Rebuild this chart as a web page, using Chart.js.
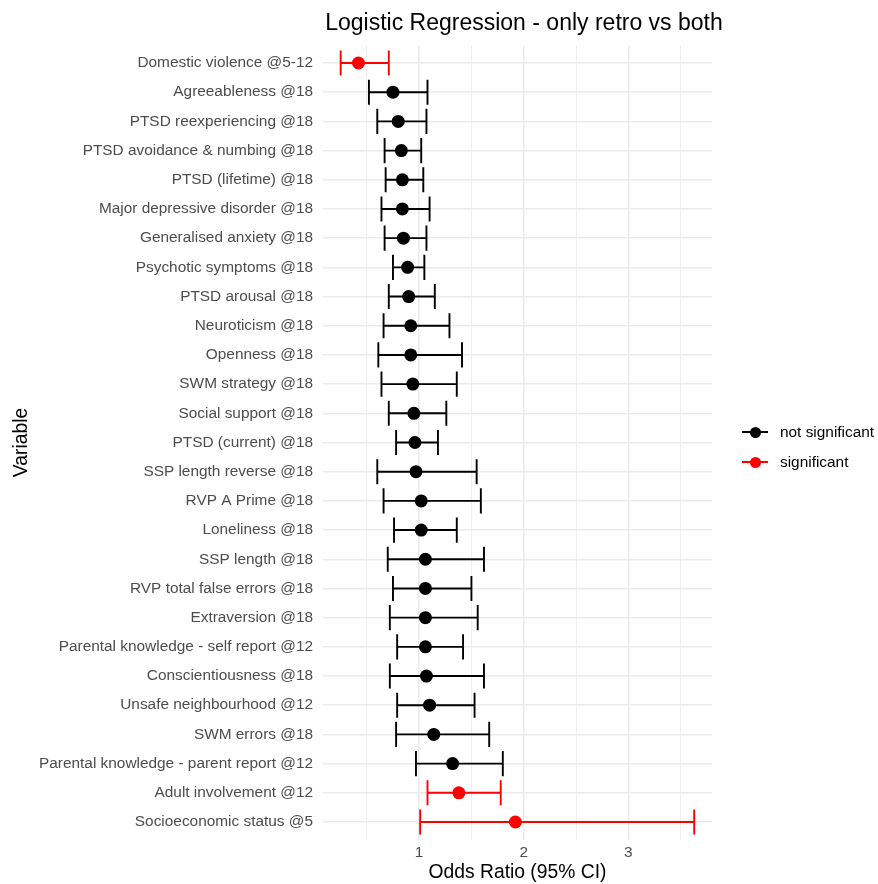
<!DOCTYPE html>
<html>
<head>
<meta charset="utf-8">
<title>Logistic Regression - only retro vs both</title>
<script src="https://cdn.jsdelivr.net/npm/chart.js@4.4.1/dist/chart.umd.min.js"></script>
<style>
  body { margin: 0; background: #fff; font-family: "Liberation Sans", Arial, sans-serif; }
  #wrap { position: relative; width: 878px; height: 884px; }
  #title { position: absolute; top: 8px; left: 0; width: 1048px; text-align: center; font-size: 23px; line-height: 28px; color: #000; }
  #legend { position: absolute; left: 742px; top: 421px; font-size: 15.4px; color: #000; }
  .item { height: 30px; line-height: 22px; position: relative; padding-left: 38px; }
  .item .ln { position: absolute; left: 0; top: 10px; width: 26px; height: 2px; }
  .item .dot { position: absolute; left: 7.5px; top: 5.5px; width: 11px; height: 11px; border-radius: 50%; }
</style>
</head>
<body>
<div id="wrap">
  <canvas id="forest-chartcanvas" width="878" height="884"></canvas>
  <div id="title">Logistic Regression - only retro vs both</div>
  <div id="legend">
    <div class="item"><span class="ln" style="background:#000"></span><span class="dot" style="background:#000"></span>not significant</div>
    <div class="item"><span class="ln" style="background:#f00"></span><span class="dot" style="background:#f00"></span>significant</div>
  </div>
</div>
<script>
// values (top row first)
var variables = [
  "Domestic violence @5-12",
  "Agreeableness @18",
  "PTSD reexperiencing @18",
  "PTSD avoidance & numbing @18",
  "PTSD (lifetime) @18",
  "Major depressive disorder @18",
  "Generalised anxiety @18",
  "Psychotic symptoms @18",
  "PTSD arousal @18",
  "Neuroticism @18",
  "Openness @18",
  "SWM strategy @18",
  "Social support @18",
  "PTSD (current) @18",
  "SSP length reverse @18",
  "RVP A Prime @18",
  "Loneliness @18",
  "SSP length @18",
  "RVP total false errors @18",
  "Extraversion @18",
  "Parental knowledge - self report @12",
  "Conscientiousness @18",
  "Unsafe neighbourhood @12",
  "SWM errors @18",
  "Parental knowledge - parent report @12",
  "Adult involvement @12",
  "Socioeconomic status @5"
];

var oddsRatio = [0.42, 0.75, 0.80, 0.83, 0.84, 0.84, 0.85, 0.89, 0.90, 0.92, 0.92, 0.94, 0.95, 0.96, 0.97,
                 1.02, 1.02, 1.06, 1.06, 1.06, 1.06, 1.07, 1.10, 1.14, 1.32, 1.38, 1.92];
var ciLow = [0.25, 0.52, 0.60, 0.67, 0.68, 0.64, 0.67, 0.75, 0.71, 0.66, 0.61, 0.64, 0.71, 0.78, 0.60,
             0.66, 0.76, 0.70, 0.75, 0.72, 0.79, 0.72, 0.79, 0.78, 0.97, 1.08, 1.01];
var ciHigh = [0.71, 1.08, 1.07, 1.02, 1.04, 1.10, 1.07, 1.05, 1.15, 1.29, 1.41, 1.36, 1.26, 1.18, 1.55,
              1.59, 1.36, 1.62, 1.50, 1.56, 1.42, 1.62, 1.53, 1.67, 1.80, 1.78, 3.63];
var significant = [true, false, false, false, false, false, false, false, false, false, false, false, false, false, false,
                   false, false, false, false, false, false, false, false, false, false, true, true];

var xTicks = [0.5, 1, 1.5, 2, 2.5, 3, 3.5];
var xLabels = ["1", "2", "3"];

var notSig = [];
var sig = [];
for (var i = 0; i < variables.length; i++) {
  var p = { x: oddsRatio[i], y: i, lo: ciLow[i], hi: ciHigh[i] };
  if (significant[i]) sig.push(p); else notSig.push(p);
}

// horizontal error bars with caps, drawn under the points
var errorBars = {
  id: "errorBars",
  beforeDatasetsDraw: function(chart) {
    var ctx = chart.ctx;
    var xs = chart.scales.x, ys = chart.scales.y;
    chart.data.datasets.forEach(function(ds) {
      ctx.save();
      ctx.strokeStyle = ds.backgroundColor;
      ctx.lineWidth = 1.9;
      ds.data.forEach(function(d) {
        var x0 = xs.getPixelForValue(d.lo);
        var x1 = xs.getPixelForValue(d.hi);
        var yc = ys.getPixelForValue(d.y);
        var yt = ys.getPixelForValue(d.y - 0.43);
        var yb = ys.getPixelForValue(d.y + 0.43);
        ctx.beginPath();
        ctx.moveTo(x0, yc); ctx.lineTo(x1, yc);
        ctx.moveTo(x0, yt); ctx.lineTo(x0, yb);
        ctx.moveTo(x1, yt); ctx.lineTo(x1, yb);
        ctx.stroke();
      });
      ctx.restore();
    });
  }
};

var font = "'Liberation Sans', Arial, sans-serif";
var ctx = document.getElementById("forest-chartcanvas");

var chart = new Chart(ctx, {
  type: "scatter",
  data: {
    datasets: [
      { label: "not significant", data: notSig, backgroundColor: "#000000", borderColor: "#000000", pointRadius: 6.5, pointHoverRadius: 6.5, borderWidth: 0 },
      { label: "significant", data: sig, backgroundColor: "#ff0000", borderColor: "#ff0000", pointRadius: 6.5, pointHoverRadius: 6.5, borderWidth: 0 }
    ]
  },
  options: {
    responsive: false,
    animation: false,
    layout: { padding: { top: 45.5, right: 166, bottom: 0, left: 0 } },
    plugins: {
      legend: { display: false },
      title: { display: false },
      tooltip: { enabled: false }
    },
    scales: {
      x: {
        type: "linear",
        min: 0.081,
        max: 3.80,
        border: { display: false },
        afterBuildTicks: function(scale) {
          scale.ticks = xTicks.map(function(v) { return { value: v }; });
        },
        afterFit: function(scale) { scale.height = 44.5; },
        grid: {
          drawTicks: false,
          color: "#ebebeb",
          lineWidth: function(c) { return Number.isInteger(c.tick.value) ? 1.5 : 0.8; }
        },
        ticks: {
          padding: 4,
          color: "#4d4d4d",
          font: { family: font, size: 15.4 },
          callback: function(v) { return Number.isInteger(v) ? xLabels[v - 1] : ""; }
        },
        title: {
          display: true,
          text: "Odds Ratio (95% CI)",
          color: "#000",
          padding: { top: 0, bottom: 0 },
          font: { family: font, size: 19.3 }
        }
      },
      y: {
        type: "linear",
        reverse: true,
        min: -0.6,
        max: variables.length - 0.4,
        border: { display: false },
        afterBuildTicks: function(scale) {
          scale.ticks = variables.map(function(_, i) { return { value: i }; });
        },
        afterFit: function(scale) { scale.width = 323; },
        grid: { drawTicks: false, color: "#ebebeb", lineWidth: 1.5 },
        ticks: {
          padding: 10,
          autoSkip: false,
          color: "#4d4d4d",
          font: { family: font, size: 15.4 },
          callback: function(v) { return variables[v]; }
        },
        title: {
          display: true,
          text: "Variable",
          color: "#000",
          padding: { top: 10.5, bottom: 0 },
          font: { family: font, size: 19.3 }
        }
      }
    }
  },
  plugins: [errorBars]
});
</script>
</body>
</html>
